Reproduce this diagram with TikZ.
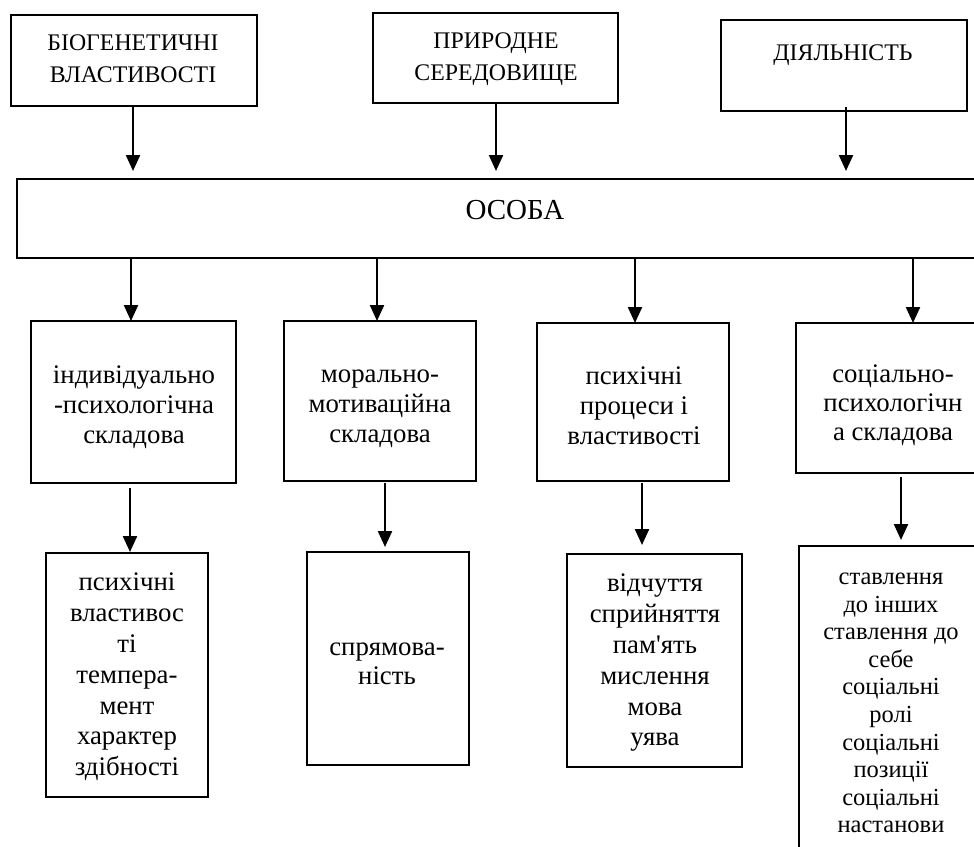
\documentclass[tikz,border=0pt]{standalone}
\usepackage{fontspec}
\setmainfont{Liberation Serif}[Ligatures=TeXOff]
\usetikzlibrary{arrows.meta}
\newcommand\fsz[2]{\fontsize{#1}{#2}\selectfont}
\tikzset{
  box/.style={draw, line width=2.5pt, inner sep=0pt, outer sep=0pt},
  txt/.style={align=center, inner sep=0pt},
  arr/.style={line width=2.3pt, -{Triangle[width=14pt,length=16pt]}},
  ln/.style={line width=2.3pt}
}
\begin{document}
\begin{tikzpicture}[x=1pt,y=-1pt]
\useasboundingbox (0,0) rectangle (974,846);
\clip (0,0) rectangle (974,846);
% top boxes
\node[box, minimum width=246pt, minimum height=91pt] (b1) at (134,60.5) {};
\node[box, minimum width=245pt, minimum height=90pt] (b2) at (495.5,58) {};
\node[box, minimum width=246pt, minimum height=91pt] (b3) at (844,65.5) {};
\node[txt, font=\fsz{23.8}{31.5}] (t1) at (133,58.5) {БІОГЕНЕТИЧНІ\\ВЛАСТИВОСТІ};
\node[txt, font=\fsz{23.8}{31.5}] (t2) at (496,59) {ПРИРОДНЕ\\СЕРЕДОВИЩЕ};
\node[txt, font=\fsz{23.8}{31.5}] (t3) at (843,55) {ДІЯЛЬНІСТЬ};
% central box
\node[box, minimum width=975pt, minimum height=79pt] (os) at (504.5,218.5) {};
\node[txt, font=\fsz{29}{34}] (tos) at (515,210) {ОСОБА};
% second level
\node[box, minimum width=205pt, minimum height=162pt] (A) at (133.5,402) {};
\node[box, minimum width=192pt, minimum height=160pt] (B) at (380,401) {};
\node[box, minimum width=192pt, minimum height=158pt] (C) at (633,402) {};
\node[box, minimum width=200pt, minimum height=150pt] (D) at (896,398) {};
\node[txt, font=\fsz{26.8}{30}] (tA) at (134,407) {індивідуально\\-психологічна\\складова};
\node[txt, font=\fsz{26.8}{30}] (tB) at (380,409) {морально-\\мотиваційна\\складова};
\node[txt, font=\fsz{26.8}{30}] (tC) at (634,406) {психічні\\процеси і\\властивості};
\node[txt, font=\fsz{26.8}{29}] (tD) at (893,405) {соціально-\\психологічн\\а складова};
% third level
\node[box, minimum width=162pt, minimum height=244pt] (A2) at (127,675) {};
\node[box, minimum width=162pt, minimum height=213pt] (B2) at (388,658.5) {};
\node[box, minimum width=175pt, minimum height=213pt] (C2) at (654.5,660.5) {};
\node[box, minimum width=200pt, minimum height=330pt] (D2) at (899,711) {};
\node[txt, font=\fsz{26.8}{30.8}] (tA2) at (127,677) {психічні\\властивос\\ті\\темпера-\\мент\\характер\\здібності};
\node[txt, font=\fsz{26.8}{29}] (tB2) at (387,663.5) {спрямова-\\ність};
\node[txt, font=\fsz{26.8}{30.8}] (tC2) at (655,663) {відчуття\\сприйняття\\пам'ять\\мислення\\мова\\уява};
\node[txt, font=\fsz{24.5}{27.6}] (tD2) at (891,703) {ставлення\\до інших\\ставлення до\\себе\\соціальні\\ролі\\соціальні\\позиції\\соціальні\\настанови};
% connectors top -> osoba
\coordinate (p1) at (133,0);
\coordinate (p2) at (496,0);
\coordinate (p3) at (846,0);
\draw[arr, shorten >=8pt] (b1.south -| p1) -- (os.north -| p1);
\draw[arr, shorten >=8pt] (b2.south -| p2) -- (os.north -| p2);
\draw[arr, shorten >=8pt, shorten <=-4pt] (b3.south -| p3) -- (os.north -| p3);
% osoba -> second level
\coordinate (q1) at (131,0);
\coordinate (q2) at (377,0);
\coordinate (q3) at (635,0);
\coordinate (q4) at (913,0);
\draw[arr] (os.south -| q1) -- (A.north -| q1);
\draw[arr] (os.south -| q2) -- (B.north -| q2);
\draw[arr] (os.south -| q3) -- (C.north -| q3);
\draw[arr] (os.south -| q4) -- (D.north -| q4);
% second -> third
\coordinate (r1) at (130,0);
\coordinate (r2) at (385,0);
\coordinate (r3) at (642,0);
\coordinate (r4) at (901,0);
\draw[arr, shorten <=5pt, shorten >=1pt] (A.south -| r1) -- (A2.north -| r1);
\draw[arr, shorten <=2pt, shorten >=5pt] (B.south -| r2) -- (B2.north -| r2);
\draw[arr, shorten <=2pt, shorten >=9pt] (C.south -| r3) -- (C2.north -| r3);
\draw[arr, shorten <=4pt, shorten >=6pt] (D.south -| r4) -- (D2.north -| r4);
\end{tikzpicture}
\end{document}
